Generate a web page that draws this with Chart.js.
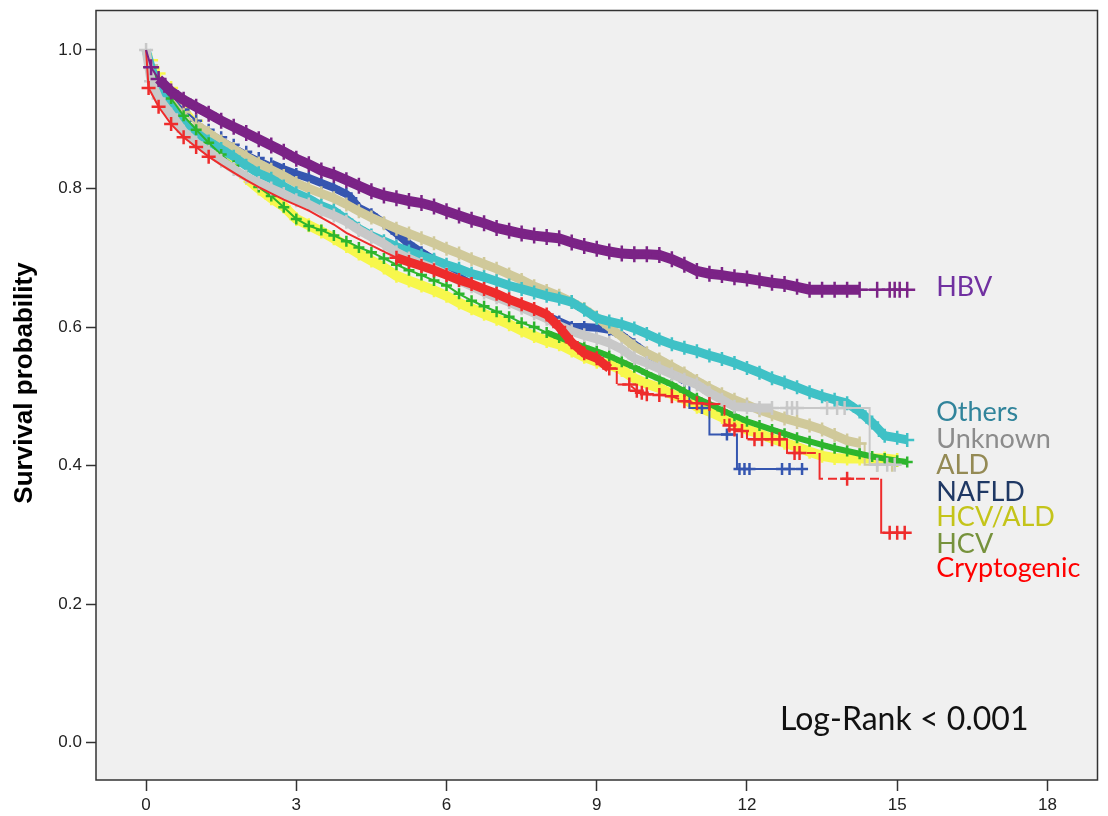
<!DOCTYPE html>
<html><head><meta charset="utf-8">
<script src="https://cdn.jsdelivr.net/npm/chart.js@4.4.1/dist/chart.umd.min.js"></script>
<style>html,body{margin:0;padding:0;background:#fff;}canvas{display:block;}</style>
</head><body>
<canvas id="c" width="1108" height="816"></canvas>
<script>
// ---- tick labels ----
const xTicks = [0, 3, 6, 9, 12, 15, 18];
const yTicks = [0.0, 0.2, 0.4, 0.6, 0.8, 1.0];

// ---- Kaplan-Meier curves: [years, survival probability]; a repeated year marks a step ----
const hbv = [[0,1],[0.1,0.975],[0.25,0.958],[0.5,0.940],[0.75,0.928],[1,0.918],[1.25,0.908],[1.5,0.898],[1.75,0.889],[2,0.880],[2.25,0.871],[2.5,0.862],[2.75,0.853],[3,0.843],[3.25,0.835],[3.5,0.826],[3.75,0.820],[4,0.812],[4.25,0.804],[4.5,0.796],[4.75,0.790],[5,0.786],[5.25,0.782],[5.5,0.779],[5.75,0.774],[6,0.767],[6.25,0.761],[6.5,0.755],[6.75,0.750],[7,0.743],[7.25,0.739],[7.5,0.735],[7.75,0.732],[8,0.730],[8.25,0.728],[8.5,0.722],[8.75,0.717],[9,0.713],[9.25,0.709],[9.5,0.706],[9.75,0.705],[10,0.705],[10.25,0.704],[10.5,0.698],[10.75,0.690],[11,0.681],[11.25,0.677],[11.5,0.675],[11.75,0.672],[12,0.670],[12.25,0.667],[12.5,0.664],[12.75,0.662],[13,0.658],[13.25,0.654],[13.5,0.654],[13.75,0.654],[14,0.654],[14.25,0.654],[14.6,0.654],[14.85,0.654],[14.95,0.654],[15.05,0.654],[15.2,0.654]];
const others = [[0,1],[0.1,0.975],[0.25,0.945],[0.5,0.917],[0.75,0.895],[1,0.880],[1.25,0.868],[1.5,0.857],[1.75,0.846],[2,0.833],[2.25,0.822],[2.5,0.814],[2.75,0.803],[3,0.793],[3.25,0.785],[3.5,0.775],[3.75,0.768],[4,0.755],[4.25,0.742],[4.5,0.732],[4.75,0.724],[5,0.716],[5.25,0.709],[5.5,0.703],[5.75,0.697],[6,0.690],[6.25,0.684],[6.5,0.677],[6.75,0.672],[7,0.666],[7.25,0.660],[7.5,0.655],[7.75,0.650],[8,0.645],[8.25,0.641],[8.5,0.636],[8.75,0.625],[9,0.613],[9.25,0.608],[9.5,0.604],[9.75,0.598],[10,0.590],[10.25,0.582],[10.5,0.575],[10.75,0.570],[11,0.565],[11.25,0.559],[11.5,0.554],[11.75,0.548],[12,0.541],[12.25,0.534],[12.5,0.526],[12.75,0.520],[13,0.513],[13.25,0.506],[13.5,0.500],[13.75,0.495],[14,0.490],[14.25,0.478],[14.5,0.462],[14.75,0.443],[15,0.440],[15.2,0.437]];
const unknown = [[0,1],[0.1,0.955],[0.25,0.930],[0.5,0.907],[0.75,0.882],[1,0.866],[1.25,0.853],[1.5,0.840],[1.75,0.828],[2,0.817],[2.25,0.808],[2.5,0.800],[2.75,0.792],[3,0.783],[3.25,0.777],[3.5,0.768],[3.75,0.761],[4,0.752],[4.25,0.740],[4.5,0.730],[4.75,0.720],[5,0.708],[5.25,0.699],[5.5,0.691],[5.75,0.684],[6,0.676],[6.25,0.667],[6.5,0.659],[6.75,0.650],[7,0.643],[7.25,0.636],[7.5,0.628],[7.75,0.620],[8,0.612],[8.25,0.602],[8.5,0.594],[8.75,0.588],[9,0.583],[9.25,0.577],[9.5,0.568],[9.75,0.555],[10,0.548],[10.25,0.540],[10.5,0.532],[10.75,0.524],[11,0.517],[11.25,0.505],[11.5,0.495],[11.75,0.485],[12,0.484],[12.25,0.483],[12.5,0.483],[12.8,0.483],[12.9,0.483],[13.0,0.483],[13.6,0.483],[13.8,0.483],[13.95,0.483],[14.45,0.483],[14.45,0.401],[14.6,0.401],[14.8,0.401],[14.95,0.401]];
const ald = [[0,1],[0.1,0.978],[0.25,0.958],[0.5,0.932],[0.75,0.910],[1,0.892],[1.25,0.880],[1.5,0.868],[1.75,0.857],[2,0.846],[2.25,0.836],[2.5,0.827],[2.75,0.818],[3,0.808],[3.25,0.800],[3.5,0.793],[3.75,0.786],[4,0.777],[4.25,0.767],[4.5,0.758],[4.75,0.750],[5,0.742],[5.25,0.735],[5.5,0.728],[5.75,0.721],[6,0.713],[6.25,0.706],[6.5,0.698],[6.75,0.691],[7,0.684],[7.25,0.676],[7.5,0.668],[7.75,0.659],[8,0.652],[8.25,0.645],[8.5,0.636],[8.75,0.626],[9,0.614],[9.25,0.600],[9.5,0.586],[9.75,0.572],[10,0.562],[10.25,0.553],[10.5,0.543],[10.75,0.533],[11,0.522],[11.25,0.512],[11.5,0.503],[11.75,0.495],[12,0.488],[12.25,0.480],[12.5,0.474],[12.75,0.468],[13,0.463],[13.25,0.458],[13.5,0.452],[13.75,0.444],[14,0.436],[14.25,0.432],[14.35,0.432],[14.35,0.401],[14.6,0.401],[14.9,0.401]];
const nafld = [[0,1],[0.1,0.977],[0.25,0.957],[0.5,0.934],[0.75,0.914],[1,0.898],[1.25,0.885],[1.5,0.874],[1.75,0.863],[2,0.853],[2.25,0.844],[2.5,0.836],[2.75,0.828],[3,0.821],[3.25,0.815],[3.5,0.808],[3.75,0.801],[4,0.792],[4.1,0.786],[4.25,0.772],[4.5,0.763],[4.75,0.750],[5,0.735],[5.25,0.720],[5.5,0.708],[5.75,0.697],[6,0.685],[6.25,0.672],[6.5,0.662],[6.75,0.652],[7,0.645],[7.25,0.638],[7.5,0.630],[7.75,0.623],[8,0.616],[8.25,0.608],[8.5,0.600],[8.75,0.600],[9,0.599],[9.25,0.596],[9.5,0.588],[9.75,0.575],[10,0.562],[10.25,0.550],[10.5,0.536],[10.75,0.522],[10.85,0.522],[10.85,0.483],[11.1,0.483],[11.25,0.483],[11.25,0.445],[11.6,0.445],[11.8,0.445],[11.8,0.395],[11.85,0.395],[11.95,0.395],[12.05,0.395],[12.7,0.395],[12.85,0.395],[13.1,0.395]];
const hcvAld = [[0,1],[0.1,0.985],[0.25,0.966],[0.5,0.945],[0.75,0.923],[1,0.898],[1.25,0.875],[1.5,0.855],[1.75,0.835],[2,0.815],[2.25,0.800],[2.5,0.786],[2.75,0.774],[3,0.756],[3.25,0.747],[3.5,0.738],[3.75,0.728],[4,0.717],[4.25,0.706],[4.5,0.696],[4.75,0.686],[5,0.674],[5.25,0.667],[5.5,0.660],[5.75,0.653],[6,0.645],[6.25,0.635],[6.5,0.627],[6.75,0.619],[7,0.612],[7.25,0.604],[7.5,0.595],[7.75,0.587],[8,0.580],[8.25,0.575],[8.5,0.566],[8.75,0.557],[9,0.550],[9.25,0.546],[9.5,0.538],[9.75,0.526],[10,0.518],[10.25,0.512],[10.5,0.503],[10.75,0.496],[11,0.485],[11.25,0.478],[11.5,0.470],[11.75,0.461],[12,0.452],[12.25,0.446],[12.5,0.439],[12.75,0.433],[13,0.427],[13.25,0.420],[13.5,0.414],[13.75,0.411],[14,0.410],[14.25,0.410],[14.5,0.410],[14.75,0.410],[15,0.408]];
const hcv = [[0,1],[0.1,0.975],[0.25,0.955],[0.5,0.930],[0.75,0.905],[1,0.885],[1.25,0.866],[1.5,0.849],[1.75,0.833],[2,0.817],[2.25,0.802],[2.5,0.789],[2.75,0.773],[3,0.756],[3.25,0.746],[3.5,0.740],[3.75,0.732],[4,0.724],[4.25,0.715],[4.5,0.708],[4.75,0.699],[5,0.690],[5.25,0.682],[5.5,0.675],[5.75,0.667],[6,0.660],[6.25,0.648],[6.5,0.638],[6.75,0.630],[7,0.622],[7.25,0.615],[7.5,0.606],[7.75,0.600],[8,0.592],[8.25,0.585],[8.5,0.578],[8.75,0.571],[9,0.565],[9.25,0.558],[9.5,0.550],[9.75,0.542],[10,0.533],[10.25,0.525],[10.5,0.517],[10.75,0.507],[11,0.497],[11.25,0.489],[11.5,0.480],[11.75,0.472],[12,0.464],[12.25,0.458],[12.5,0.452],[12.75,0.446],[13,0.440],[13.25,0.435],[13.5,0.430],[13.75,0.425],[14,0.421],[14.25,0.417],[14.5,0.413],[14.75,0.410],[15,0.407],[15.2,0.405]];
const cryptogenic = [[0,1],[0.05,0.945],[0.25,0.918],[0.5,0.893],[0.75,0.874],[1,0.860],[1.25,0.846],[1.5,0.834],[1.75,0.823],[2,0.812],[2.25,0.802],[2.5,0.793],[2.75,0.784],[3,0.776],[3.25,0.768],[3.5,0.758],[3.75,0.748],[4,0.736],[4.25,0.727],[4.5,0.718],[4.75,0.709],[5,0.700],[5.25,0.694],[5.5,0.688],[5.75,0.682],[6,0.675],[6.25,0.668],[6.5,0.662],[6.75,0.655],[7,0.648],[7.25,0.640],[7.5,0.633],[7.75,0.626],[8,0.618],[8.25,0.600],[8.5,0.578],[8.75,0.562],[9,0.555],[9.25,0.540],[9.4,0.540],[9.4,0.517],[9.65,0.517],[9.8,0.508],[9.9,0.505],[10,0.503],[10.25,0.502],[10.5,0.500],[10.75,0.493],[11,0.490],[11.25,0.489],[11.55,0.489],[11.55,0.460],[11.65,0.458],[11.75,0.452],[11.9,0.450],[12.0,0.450],[12.0,0.438],[12.15,0.438],[12.3,0.438],[12.5,0.438],[12.65,0.438],[12.8,0.438],[12.8,0.418],[12.95,0.418],[13.05,0.418],[13.45,0.418],[13.45,0.381],[14.0,0.381],[14.68,0.381],[14.68,0.303],[14.85,0.303],[15.0,0.303],[15.15,0.303]];

const groupNames = ['HBV', 'Others', 'Unknown', 'ALD', 'NAFLD', 'HCV/ALD', 'HCV', 'Cryptogenic'];
const groupCurves = [hbv, others, unknown, ald, nafld, hcvAld, hcv, cryptogenic];

// ---- styles ----
const lineColors  = ['#7b2386', '#3fc1c6', '#c8c8c8', '#d0c99a', '#3556b0', '#f7f74c', '#2db52d', '#ee2c2c'];
const labelColors = ['#7030a0', '#31849b', '#8c8c8c', '#948a54', '#1f3864', '#c4c41a', '#76923c', '#ff0000'];
const bandStart   = [0.25, 0, 0, 0.9, 2.3, 1.8, 8.0, 4.9];  // years where dense censoring band begins
const bandEnd     = [14.3, 15.3, 12.6, 14.3, 10.8, 15.1, 15.3, 9.3];
const bandWidth   = [10, 9, 9, 9, 8, 10, 6, 9];
const crossSize   = [8, 7, 7, 7, 6, 7, 5.5, 7];
const quietFrom   = [0, 0, 0, 0, 0, 0, 0, 1.3];             // span without visible censor marks
const quietTo     = [0, 0, 0, 0, 0, 0, 0, 4.9];
const drawRank    = [0, 4, 2, 5, 6, 7, 3, 1];                // 0 = drawn on top
const dashed      = [false, false, false, false, false, false, false, true];
const firstMark   = [false, false, true, false, false, false, false, false];
const labelY      = [0.658, 0.477, 0.438, 0.401, 0.362, 0.325, 0.287, 0.251];

const FONT = "'Liberation Sans', Arial, sans-serif";
const LABEL_FONT = "Lato, 'Open Sans', sans-serif";

const datasets = groupNames.map((name, i) => ({
  label: name,
  data: groupCurves[i].map(p => ({ x: p[0], y: p[1] })),
  order: drawRank[i],
  borderColor: lineColors[i],
  backgroundColor: lineColors[i],
  borderWidth: 2,
  tension: 0,
  fill: false,
  pointStyle: 'cross',
  pointRadius: ctx => {
    const d = ctx.dataset.data, k = ctx.dataIndex, p = d[k];
    if (!p) return 0;
    if (k === 0) return firstMark[i] ? 7 : 0;
    if (p.x > quietFrom[i] && p.x < quietTo[i]) return 0;
    const prev = d[k - 1], next = d[k + 1];
    if ((prev && prev.x === p.x) || (next && next.x === p.x)) return 0;   // step corners carry no mark
    return crossSize[i];
  },
  pointBorderWidth: 2.5,
  pointBorderColor: lineColors[i],
  pointHoverRadius: 0,
  segment: {
    borderWidth: ctx => (ctx.p0.parsed.x >= bandStart[i] && ctx.p1.parsed.x <= bandEnd[i]) ? bandWidth[i] : 2,
    borderDash: ctx => (dashed[i] && ctx.p1.parsed.x > bandEnd[i]) ? [9, 5] : []
  }
}));

const framePlugin = {
  id: 'frame',
  beforeDraw(chart) {
    const { ctx, chartArea: a } = chart;
    ctx.save();
    ctx.fillStyle = '#f0f0f0';
    ctx.fillRect(a.left, a.top, a.right - a.left, a.bottom - a.top);
    ctx.restore();
  },
  afterDraw(chart) {
    const { ctx, chartArea: a, scales } = chart;
    ctx.save();
    ctx.strokeStyle = '#333333';
    ctx.lineWidth = 1.5;
    ctx.strokeRect(a.left, a.top, a.right - a.left, a.bottom - a.top);
    // axis title
    ctx.save();
    ctx.translate(25, 383);
    ctx.rotate(-Math.PI / 2);
    ctx.textAlign = 'center';
    ctx.textBaseline = 'middle';
    ctx.fillStyle = '#000';
    ctx.font = "bold 26px " + FONT;
    ctx.fillText('Survival probability', 0, 0);
    ctx.restore();
    // group labels
    ctx.textBaseline = 'middle';
    ctx.textAlign = 'left';
    ctx.font = "27px " + LABEL_FONT;
    const lx = scales.x.getPixelForValue(15.78);
    groupNames.forEach((n, i) => {
      ctx.fillStyle = labelColors[i];
      ctx.fillText(n, lx, scales.y.getPixelForValue(labelY[i]));
    });
    ctx.fillStyle = '#111';
    ctx.font = "32px " + LABEL_FONT;
    ctx.fillText('Log-Rank < 0.001', scales.x.getPixelForValue(12.66), scales.y.getPixelForValue(0.033));
    ctx.restore();
  }
};

new Chart(document.getElementById('c'), {
  type: 'line',
  data: { datasets },
  plugins: [framePlugin],
  options: {
    responsive: false,
    animation: false,
    events: [],
    layout: { padding: { top: 7, right: 6, left: 0, bottom: 0 } },
    plugins: { legend: { display: false }, tooltip: { enabled: false } },
    scales: {
      x: {
        type: 'linear', min: -1, max: 19,
        afterBuildTicks: s => { s.ticks = xTicks.map(v => ({ value: v })); },
        afterFit: s => { s.height = 36; s.paddingLeft = 0; s.paddingRight = 0; },
        ticks: { color: '#222', font: { family: FONT, size: 17 }, padding: 4, maxRotation: 0, callback: v => String(v) },
        grid: { drawOnChartArea: false, drawTicks: true, tickLength: 11, tickColor: '#333', tickWidth: 1.5 },
        border: { display: false }
      },
      y: {
        type: 'linear', min: -0.054, max: 1.057,
        afterBuildTicks: s => { s.ticks = yTicks.map(v => ({ value: v })); },
        afterFit: s => { s.width = 96; s.paddingTop = 0; s.paddingBottom = 0; },
        ticks: { color: '#222', font: { family: FONT, size: 17 }, padding: 4, callback: v => Number(v).toFixed(1) },
        grid: { drawOnChartArea: false, drawTicks: true, tickLength: 10, tickColor: '#333', tickWidth: 1.5 },
        border: { display: false }
      }
    }
  }
});
</script>
</body></html>
